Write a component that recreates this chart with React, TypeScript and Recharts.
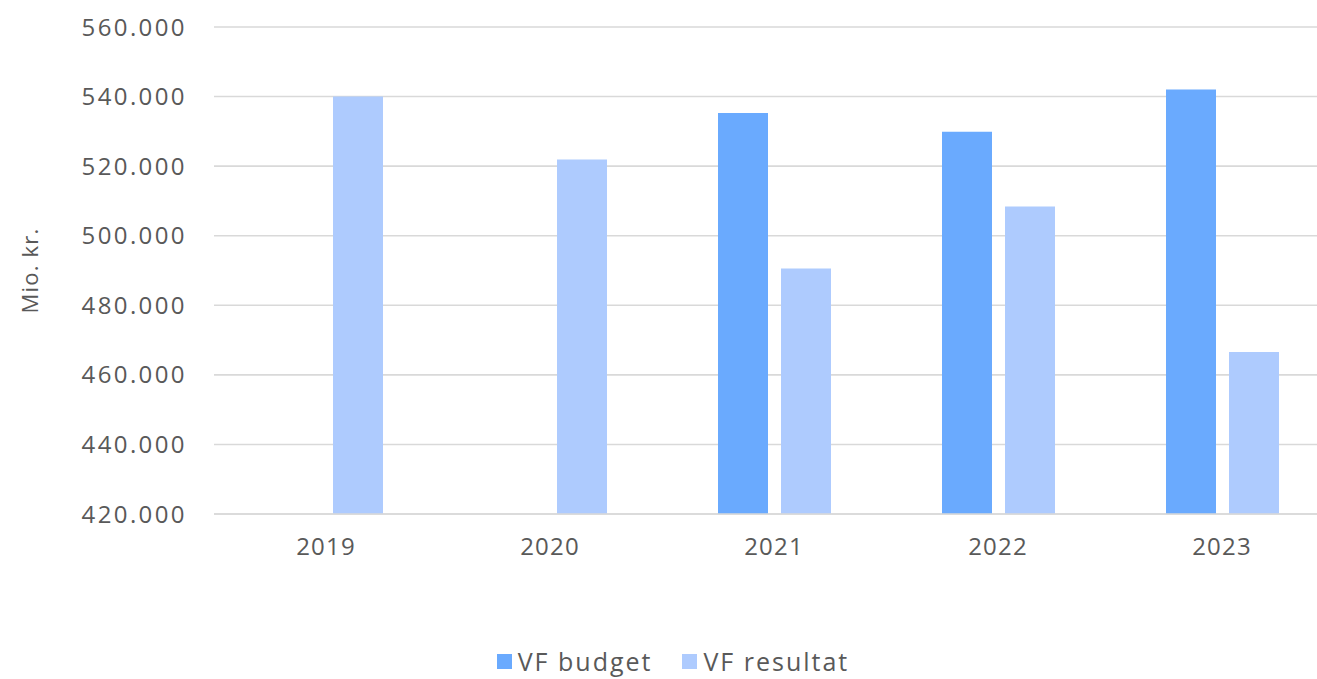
import { BarChart, Bar, XAxis, YAxis, CartesianGrid, Legend, Label } from "recharts";

const years = ["2019", "2020", "2021", "2022", "2023"];
const budget = [null, null, 535300, 529900, 542000];
const resultat = [540000, 521900, 490600, 508400, 466600];
const yTicks = [420000, 440000, 460000, 480000, 500000, 520000, 540000, 560000];

const data = years.map((year, i) => ({
  year,
  budget: budget[i],
  resultat: resultat[i],
}));

const BUDGET = "#6AAAFE";
const RESULTAT = "#AECBFE";
const TEXT = "#595959";
const FONT = "'Open Sans', sans-serif";

const fmt = (v: number) => (v / 1000).toFixed(3);

function LegendBox() {
  const items = [
    { name: "VF budget", color: BUDGET },
    { name: "VF resultat", color: RESULTAT },
  ];
  return (
    <div
      style={{
        display: "flex",
        justifyContent: "center",
        gap: 30,
        height: 30,
        alignItems: "center",
        fontFamily: FONT,
        fontSize: 25,
        fontWeight: 500,
        letterSpacing: 2,
        lineHeight: "30px",
        color: TEXT,
      }}
    >
      {items.map((it) => (
        <div key={it.name} style={{ display: "flex", alignItems: "center", gap: 6 }}>
          <span style={{ width: 15, height: 15, background: it.color, display: "inline-block" }} />
          <span>{it.name}</span>
        </div>
      ))}
    </div>
  );
}

export default function App() {
  return (
    <div
      style={{
        position: "absolute",
        left: 0,
        top: 0,
        width: 1317,
        height: 679,
        overflow: "hidden",
        background: "#fff",
      }}
    >
      <BarChart
        width={1340}
        height={679}
        data={data}
        margin={{ top: 27, right: 6, left: 0, bottom: 0 }}
        barSize={50}
        barGap={13}
      >
        <CartesianGrid vertical={false} stroke="#D9D9D9" strokeWidth={1.6} />
        <XAxis
          dataKey="year"
          height={135}
          axisLine={{ stroke: "#D9D9D9", strokeWidth: 1.6 }}
          tickLine={false}
          tickMargin={18}
          tick={{ fill: TEXT, fontSize: 24, fontWeight: 500, fontFamily: FONT, letterSpacing: 1.2 }}
        />
        <YAxis
          width={214}
          domain={[420000, 560000]}
          ticks={yTicks}
          tickFormatter={fmt}
          axisLine={false}
          tickLine={false}
          tickMargin={21}
          tick={{ fill: TEXT, fontSize: 24, fontWeight: 500, fontFamily: FONT, letterSpacing: 2.4 }}
        >
          <Label
            value="Mio. kr."
            angle={-90}
            position="insideLeft"
            offset={30}
            style={{ fill: TEXT, fontSize: 22, fontWeight: 500, fontFamily: FONT, letterSpacing: 1.2, textAnchor: "middle" }}
          />
        </YAxis>
        <Legend
          verticalAlign="bottom"
          wrapperStyle={{ left: 0, width: 1346, bottom: 3 }}
          content={() => <LegendBox />}
        />
        <Bar dataKey="budget" name="VF budget" fill={BUDGET} isAnimationActive={false} />
        <Bar dataKey="resultat" name="VF resultat" fill={RESULTAT} isAnimationActive={false} />
      </BarChart>
    </div>
  );
}
